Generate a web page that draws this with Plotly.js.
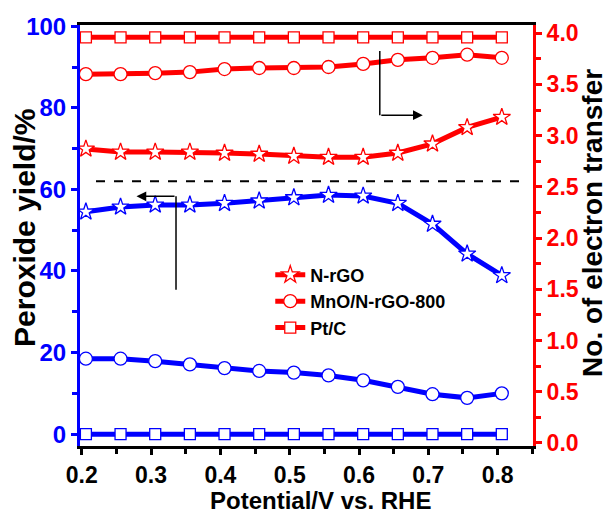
<!DOCTYPE html>
<html>
<head>
<meta charset="utf-8">
<script src="https://cdn.plot.ly/plotly-3.0.1.min.js"></script>
<style>html,body{margin:0;padding:0;background:#fff;}#chart{width:611px;height:515px;}</style>
</head>
<body>
<div id="chart"></div>
<script>
// Potential (V vs. RHE)
const potential = [0.206,0.256,0.306,0.356,0.406,0.456,0.506,0.556,0.606,0.656,0.706,0.756,0.806];
// Peroxide yield (%) - left axis
const yieldNrGO = [54.5,55.7,56.2,56.2,56.6,57.2,58.0,58.6,58.4,56.6,51.5,44.2,38.9];
const yieldMnO  = [18.5,18.5,17.9,17.1,16.2,15.5,15.1,14.4,13.2,11.6,9.8,8.9,10.0];
const yieldPtC  = [0,0,0,0,0,0,0,0,0,0,0,0,0];
// Number of electrons transferred - right axis
const nNrGO = [2.87,2.84,2.84,2.84,2.83,2.82,2.80,2.79,2.79,2.83,2.92,3.08,3.18];
const nMnO  = [3.60,3.60,3.61,3.62,3.65,3.66,3.66,3.67,3.70,3.74,3.76,3.79,3.76];
const nPtC  = [3.96,3.96,3.96,3.96,3.96,3.96,3.96,3.96,3.96,3.96,3.96,3.96,3.96];
const seriesNames = ['N-rGO','MnO/N-rGO-800','Pt/C'];
const xTitle = 'Potential/V vs. RHE';
const yTitle = 'Peroxide yield/%';
const y2Title = 'No. of electron transfer';
const dashedLevel = 62;

const FONT = 'Arial, "Liberation Sans", sans-serif';
const BLUE = '#0000ff', RED = '#ff0000';
const sym = ['star','circle','square'];
const msize = [13,13,11];

function tr(y, i, color, axis, legend){
  return {
    x: potential, y: y, name: seriesNames[i], yaxis: axis,
    type: 'scatter', mode: 'lines+markers', showlegend: legend,
    line: {color: color, width: 5},
    marker: {symbol: sym[i], size: msize[i], color: '#ffffff', line: {color: color, width: 1.3}}
  };
}
const data = [
  tr(yieldNrGO,0,BLUE,'y',false), tr(yieldMnO,1,BLUE,'y',false), tr(yieldPtC,2,BLUE,'y',false),
  tr(nNrGO,0,RED,'y2',true), tr(nMnO,1,RED,'y2',true), tr(nPtC,2,RED,'y2',true)
];

const titleFont = (s) => ({family: FONT, size: s, color: '#000', weight: 'bold'});

const layout = {
  width: 611, height: 515,
  margin: {l: 80, r: 78, t: 25, b: 69},
  paper_bgcolor: '#fff', plot_bgcolor: '#fff',
  font: {family: FONT, size: 20, color: '#000', weight: 'bold'},
  xaxis: {
    range: [0.1975, 0.851], tick0: 0.2, dtick: 0.1, tickformat: '.1f',
    ticks: 'outside', ticklen: 6, tickwidth: 3, tickcolor: '#000', ticklabelstandoff: 0,
    minor: {dtick: 0.05, tick0: 0.2, ticks: 'outside', ticklen: 5, tickwidth: 3, tickcolor: '#000'},
    showline: true, linecolor: '#000', linewidth: 3, mirror: true,
    showgrid: false, zeroline: false,
    tickfont: {family: FONT, size: 23, color: '#000', weight: 'bold'}
  },
  yaxis: {
    range: [-2.9, 100.3], dtick: 20, tick0: 0,
    ticks: 'outside', ticklen: 6, tickwidth: 3, tickcolor: BLUE,
    minor: {dtick: 10, tick0: 0, ticks: 'outside', ticklen: 5, tickwidth: 3, tickcolor: BLUE},
    showline: true, linecolor: BLUE, linewidth: 3,
    showgrid: false, zeroline: false,
    tickfont: {family: FONT, size: 24, color: BLUE, weight: 'bold'}
  },
  yaxis2: {
    overlaying: 'y', side: 'right',
    range: [-0.03, 4.08], dtick: 0.5, tick0: 0, tickformat: '.1f',
    ticks: 'outside', ticklen: 6, tickwidth: 3, tickcolor: RED,
    minor: {dtick: 0.25, tick0: 0, ticks: 'outside', ticklen: 5, tickwidth: 3, tickcolor: RED},
    showline: true, linecolor: RED, linewidth: 3,
    showgrid: false, zeroline: false,
    tickfont: {family: FONT, size: 23, color: RED, weight: 'bold'}
  },
  legend: {
    x: 0.42, y: 0.45, xanchor: 'left', yanchor: 'top',
    bgcolor: 'rgba(0,0,0,0)', borderwidth: 0,
    font: {family: FONT, size: 18, color: '#000', weight: 'bold'},
    tracegroupgap: 0
  },
  shapes: [
    {type: 'line', xref: 'x', yref: 'y', x0: 0.2206, x1: 0.837, y0: dashedLevel, y1: dashedLevel,
     line: {color: '#000', width: 2, dash: 'dash'}},
    {type: 'line', xref: 'x', yref: 'y', x0: 0.336, x1: 0.336, y0: 35.4, y1: 58.3,
     line: {color: '#000', width: 1.5}},
    {type: 'line', xref: 'x', yref: 'y', x0: 0.630, x1: 0.630, y0: 93.9, y1: 78.2,
     line: {color: '#000', width: 1.5}}
  ],
  annotations: [
    {xref: 'x', yref: 'y', axref: 'x', ayref: 'y', x: 0.279, y: 58.3, ax: 0.336, ay: 58.3,
     text: '', showarrow: true, arrowhead: 2, arrowsize: 1.3, arrowwidth: 1.5, arrowcolor: '#000'},
    {xref: 'x', yref: 'y', axref: 'x', ayref: 'y', x: 0.692, y: 78.2, ax: 0.630, ay: 78.2,
     text: '', showarrow: true, arrowhead: 2, arrowsize: 1.3, arrowwidth: 1.5, arrowcolor: '#000'},
    {xref: 'paper', yref: 'paper', x: 0.530, y: -0.1306, xanchor: 'center', yanchor: 'middle',
     text: xTitle, showarrow: false, borderpad: 0, font: titleFont(24)},
    {xref: 'paper', yref: 'paper', x: -0.1214, y: 0.518, xanchor: 'center', yanchor: 'middle',
     text: yTitle, textangle: -90, showarrow: false, borderpad: 0, font: titleFont(30)},
    {xref: 'paper', yref: 'paper', x: 1.1325, y: 0.530, xanchor: 'center', yanchor: 'middle',
     text: y2Title, textangle: -90, showarrow: false, borderpad: 0, font: titleFont(28)}
  ]
};

Plotly.newPlot('chart', data, layout, {displayModeBar: false, staticPlot: true});
</script>
</body>
</html>
